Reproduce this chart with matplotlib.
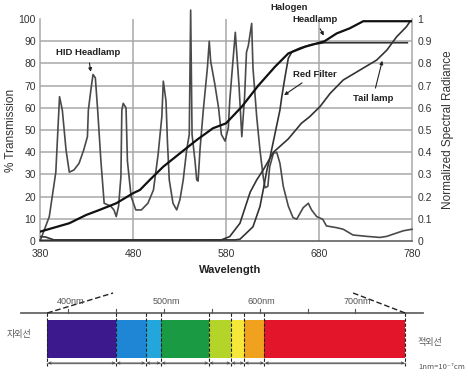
import numpy as np
import matplotlib.pyplot as plt

# === Data ===
hid_wl = [380, 381, 390, 397, 401, 404, 408, 411.5, 416.5, 422, 427, 431, 432, 435, 437, 439.5,
          442, 445.5, 449, 456, 459.5, 462, 464.5, 467, 468, 469.5, 472.5, 474, 478, 483, 489,
          496, 502, 507, 511, 512.6, 515.5, 517, 519, 523, 527, 530.5, 534, 537.7, 540.5, 542,
          543.5, 546.7, 548.5, 550, 552, 554, 555.6, 560, 562, 563.5, 568, 572, 575, 579, 582.5,
          584, 586, 590, 594, 597, 600, 602, 604, 607.6, 609, 613, 616.5, 620, 622, 625, 627,
          631, 634.5, 638, 641.6, 647, 652, 656, 663, 668.5, 672, 677.5, 684, 688, 699, 706,
          716.6, 731, 745.6, 753, 760, 770.6, 780]
hid_val = [0.5, 1, 11, 31, 65, 59, 41, 31, 32, 35, 41, 47, 59, 69, 75, 73.5,
           59, 36, 17, 15.7, 14, 11, 15.7, 29, 59, 62, 60, 36, 20, 14, 14,
           17, 23, 39, 56, 72, 63, 45, 27.5, 17, 14, 18.7, 27.5, 41, 48, 104,
           48, 36, 27.5, 27, 41, 51, 59, 78, 90, 81, 70.6, 60, 48, 45, 51,
           63, 73.5, 94, 70, 47, 65, 85, 88, 98, 78, 56, 41, 29, 24, 24.6, 33.5,
           39.5, 40, 35, 24.6, 15.7, 10.6, 9.8, 15, 17, 14, 11, 9.8, 6.8, 6, 5.3,
           2.7, 2.1, 1.6, 2.1, 3.1, 4.6, 5.3]

halogen_wl = [380, 411.5, 429.5, 444, 462, 480, 487.5, 498, 512.6, 530.5, 548.5, 566, 580,
              597, 614.7, 632.7, 647, 665, 686, 699, 713, 727.6, 780]
halogen_val = [4.2, 8, 11.7, 14, 17, 21.5, 23, 27.5, 33.5, 39.5, 45.5, 50.8, 53,
               60.5, 70, 78.5, 84.5, 87.5, 90, 93.5, 95.8, 99, 99]

red_wl = [380, 386, 395, 590, 595, 609, 616.5, 620, 624, 627, 631, 634.5, 638, 640, 643.5,
          647, 651, 660, 672, 686, 775]
red_val = [2, 1.8, 0.5, 0.5, 0.8, 6.4, 15.5, 23, 32, 37, 45, 52, 59, 65, 74,
           82.3, 85.3, 87, 88.5, 89.3, 89.3]

tail_wl = [380, 575, 584, 595, 606, 613, 620, 631, 647, 661, 670, 681, 692, 706, 724, 742,
           753, 763.5, 774, 778]
tail_val = [0.3, 0.5, 2, 8, 22, 27.5, 32, 40, 46, 53, 56, 60.5, 66.5, 72.5, 77, 81.5,
            86, 92, 96.5, 99]

x_ticks = [380, 480, 580, 680, 780]
left_ticks = list(range(0, 101, 10))
right_labels = ['0', '0.1', '0.2', '0.3', '0.4', '0.5', '0.6', '0.7', '0.8', '0.9', '1']

# spectrum band below the chart
band_edges = [378, 450, 481, 497, 547, 570, 584, 605, 752]
band_colors = ['#3c1a8e', '#1f86d6', '#22a6dc', '#1a9a42', '#b5d42a', '#f5e83a', '#f0a21e', '#e3152a']
scale_ticks = [400, 450, 500, 550, 600, 650, 700]
scale_labels = {400: '400nm', 500: '500nm', 600: '600nm', 700: '700nm'}

plt.rcParams['font.family'] = ['Liberation Sans', 'DejaVu Sans']

W, H = 468, 378
fig = plt.figure(figsize=(W / 100, H / 100), dpi=100)

# === Main chart ===
ax = fig.add_axes([40 / W, 1 - 241 / H, 372 / W, 222 / H])
ax.set_xlim(380, 780)
ax.set_ylim(0, 100)
grid_c = '#a8a8a8'
for v in left_ticks[1:-1]:
    ax.axhline(v, color=grid_c, lw=1.1, zorder=0)
for v in x_ticks[1:-1]:
    ax.axvline(v, color=grid_c, lw=1.1, zorder=0)
ax.spines['top'].set_visible(False)
for s in ['left', 'right', 'bottom']:
    ax.spines[s].set_color(grid_c)
    ax.spines[s].set_linewidth(1.1)
ax.spines['bottom'].set_color('#555555')

ax.plot(hid_wl, hid_val, color='#4a4a4a', lw=1.2, clip_on=False, zorder=3)
ax.plot(halogen_wl, halogen_val, color='#111111', lw=1.6, zorder=4)
ax.plot(red_wl, red_val, color='#333333', lw=1.2, zorder=3)
ax.plot(tail_wl, tail_val, color='#333333', lw=1.2, zorder=3)

ax.set_xticks(x_ticks)
ax.set_yticks(left_ticks)
ax.tick_params(length=0, labelsize=7.5, labelcolor='#333333')
ax.tick_params(axis='x', pad=6)
ax.tick_params(axis='y', pad=3)
ax.set_ylabel('% Transmission', fontsize=8.5, color='#333333', labelpad=1)

ax2 = ax.twinx()
ax2.set_ylim(0, 100)
ax2.set_yticks(left_ticks)
ax2.set_yticklabels(right_labels)
ax2.tick_params(length=0, labelsize=7.5, labelcolor='#333333', pad=4)
for s in ax2.spines.values():
    s.set_visible(False)
ax2.set_ylabel('Normalized Spectral Radiance', fontsize=8.5, color='#333333', labelpad=7)

fig.text(230 / W, 1 - 270 / H, 'Wavelength', ha='center', va='center',
         fontsize=8, fontweight='bold', color='#222222')

arrow = dict(arrowstyle='-|>', color='#222222', lw=0.8, mutation_scale=5)
kw = dict(fontsize=6.8, fontweight='bold', color='#222222', ha='center', va='center',
          annotation_clip=False)
ax.annotate('HID Headlamp', xy=(435, 75), xytext=(431.6, 84.7), arrowprops=arrow, **kw)
ax.annotate('Headlamp', xy=(686.5, 91.4), xytext=(675.7, 100), arrowprops=arrow, **kw)
ax.text(647.7, 105.4, 'Halogen', fontsize=6.8, fontweight='bold', color='#222222',
        ha='center', va='center', clip_on=False)
ax.annotate('Red Filter', xy=(640, 65), xytext=(675.7, 75.2), arrowprops=arrow, **kw)
ax.annotate('Tail lamp', xy=(748.8, 82.4), xytext=(738, 64.4), arrowprops=arrow, **kw)

# === Spectrum strip ===
bx = fig.add_axes([0, 0, 1, 95 / H])
x0 = 400 - 68.3 / 0.957
x1 = 400 + (W - 68.3) / 0.957
bx.set_xlim(x0, x1)
bx.set_ylim(H, H - 95)
bx.axis('off')

for i in range(len(band_colors)):
    bx.fill_between([band_edges[i], band_edges[i + 1]], 320, 358, color=band_colors[i], lw=0)

bx.plot([351, 771], [313, 313], color='#666666', lw=1.3)
for t in scale_ticks:
    bx.plot([t, t], [309, 313], color='#555555', lw=0.8)
for t, lab in scale_labels.items():
    bx.text(t + 2, 301, lab, ha='center', va='center', fontsize=6.5, color='#555555')

for e in band_edges:
    bx.plot([e, e], [313, 366], color='#222222', lw=0.8, ls=(0, (3, 1.5)))

bx.plot([band_edges[0], 446.8], [313, 293], color='#222222', lw=1.0, ls=(0, (4, 2)))
bx.plot([697.6, band_edges[-1]], [293, 313], color='#222222', lw=1.0, ls=(0, (4, 2)))

bx.plot([band_edges[0], band_edges[-1]], [363, 363], color='#888888', lw=1.0)
for a, b in zip(band_edges[:-1], band_edges[1:]):
    bx.annotate('', xy=(a, 363), xytext=(b, 363),
                arrowprops=dict(arrowstyle='<->', color='#444444', lw=0.6, mutation_scale=4,
                                shrinkA=0.5, shrinkB=0.5))

cjk = ['Noto Sans CJK KR', 'DejaVu Sans']
bx.text(19 / W * (x1 - x0) + x0, 334, '자외선', ha='center', va='center', fontsize=6.5,
        color='#555555', family=cjk)
bx.text(430 / W * (x1 - x0) + x0, 342, '적외선', ha='center', va='center', fontsize=6.5,
        color='#555555', family=cjk)
bx.text(442 / W * (x1 - x0) + x0, 367, '1nm=10⁻⁷cm', ha='center', va='center', fontsize=5.5,
        color='#555555', family=cjk)

fig.savefig('out.png', dpi=100)
